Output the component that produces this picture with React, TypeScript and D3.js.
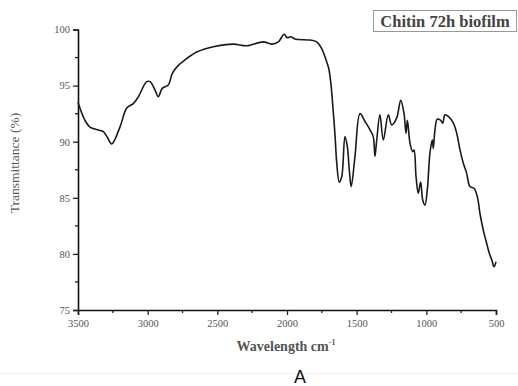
import React, { useEffect, useRef } from 'react';
import * as d3 from 'd3';

// FTIR spectrum
const wavenumbers = [
  3500, 3450, 3414, 3354, 3318, 3290, 3258, 3199, 3150, 3103, 3067, 3007, 2983, 2947, 2924, 2895,
  2852, 2823, 2780, 2732, 2648, 2529, 2385, 2289, 2170, 2110, 2062, 2021, 1998, 1974, 1943, 1835,
  1787, 1751, 1715, 1700, 1685, 1670, 1655, 1643, 1625, 1607, 1584, 1567, 1553, 1539, 1512, 1476,
  1440, 1404, 1381, 1369, 1356, 1333, 1309, 1273, 1249, 1213, 1184, 1160, 1146, 1136, 1117, 1098,
  1088, 1074, 1058, 1041, 1026, 1010, 993, 974, 957, 950, 938, 922, 897, 883, 866, 842, 806, 782,
  758, 735, 711, 687, 658, 634, 615, 591, 567, 548, 530, 514, 500,
];
const transmittance = [
  93.5, 91.9, 91.3, 91.05, 90.9, 90.4, 89.8, 91.3, 93.0, 93.4, 94.0, 95.35, 95.35, 94.6, 94.0, 94.75,
  95.05, 96.1, 96.8, 97.3, 98.0, 98.47, 98.7, 98.55, 98.9, 98.7, 98.9, 99.57, 99.27, 99.36, 99.15, 99.06,
  98.9, 98.3, 97.1, 96.5, 95.2, 93.0, 90.5, 88.1, 86.4, 86.9, 90.45, 89.55, 87.5, 86.0, 88.7, 92.5,
  91.8, 91.05, 90.45, 88.7, 90.15, 92.4, 90.15, 92.4, 91.5, 92.1, 93.7, 92.5, 90.75, 91.9, 89.85, 89.1,
  89.25, 86.9, 85.4, 86.4, 84.8, 84.35, 85.7, 89.0, 90.15, 89.4, 91.05, 92.0, 91.9, 91.65, 92.4, 92.25, 91.65, 90.75,
  89.25, 88.1, 87.2, 86.0, 85.85, 85.1, 83.6, 82.1, 80.95, 80.05, 79.45, 78.85, 79.3,
];
const xTicks = [3500, 3000, 2500, 2000, 1500, 1000, 500];
const yTicks = [75, 80, 85, 90, 95, 100];
const legendLabel = 'Chitin 72h biofilm';

const serif = '"Liberation Serif", "DejaVu Serif", serif';

const App = () => {
  const svgRef = useRef(null);

  useEffect(() => {
    const svg = d3.select(svgRef.current);
    svg.selectAll('*').remove();

    const width = 518;
    const height = 386;
    const margin = { top: 29.5, right: 22, bottom: 76, left: 78 };

    svg.append('rect').attr('width', width).attr('height', height).attr('fill', 'white');

    const x = d3.scaleLinear().domain([3500, 500]).range([margin.left, width - margin.right]);
    const y = d3.scaleLinear().domain([75, 100]).range([height - margin.bottom, margin.top]);

    // minor ticks
    const xMinor = d3.range(3250, 500, -500);
    const yMinor = d3.range(77.5, 100, 5);

    const xAxis = svg.append('g')
      .attr('transform', `translate(0,${height - margin.bottom})`)
      .call(d3.axisBottom(x).tickValues(xTicks).tickSize(5).tickPadding(5).tickFormat(d3.format('d')));
    const yAxis = svg.append('g')
      .attr('transform', `translate(${margin.left},0)`)
      .call(d3.axisLeft(y).tickValues(yTicks).tickSize(5).tickPadding(3));

    [xAxis, yAxis].forEach(g => {
      g.select('.domain').attr('stroke', '#111').attr('stroke-width', 1.6);
      g.selectAll('.tick line').attr('stroke', '#222').attr('stroke-width', 1.3);
      g.selectAll('.tick text')
        .attr('fill', '#555')
        .style('font-family', serif)
        .style('font-size', '10.5px');
    });

    svg.append('g').selectAll('line').data(xMinor).enter().append('line')
      .attr('x1', d => x(d)).attr('x2', d => x(d))
      .attr('y1', height - margin.bottom).attr('y2', height - margin.bottom + 3)
      .attr('stroke', '#222').attr('stroke-width', 1.3);
    svg.append('g').selectAll('line').data(yMinor).enter().append('line')
      .attr('x1', margin.left - 3).attr('x2', margin.left)
      .attr('y1', d => y(d)).attr('y2', d => y(d))
      .attr('stroke', '#222').attr('stroke-width', 1.3);

    // spectrum
    const points = wavenumbers.map((w, i) => [w, transmittance[i]]);
    const line = d3.line()
      .x(d => x(d[0]))
      .y(d => y(d[1]))
      .curve(d3.curveCatmullRom.alpha(0.5));
    svg.append('path')
      .datum(points)
      .attr('d', line)
      .attr('fill', 'none')
      .attr('stroke', '#1a1a1a')
      .attr('stroke-width', 1.6)
      .attr('stroke-linejoin', 'round');

    // axis labels
    svg.append('text')
      .attr('transform', `translate(16,${163}) rotate(-90)`)
      .attr('text-anchor', 'middle')
      .attr('dominant-baseline', 'middle')
      .attr('fill', '#555')
      .style('font-family', serif)
      .style('font-size', '13.5px')
      .text('Transmittance (%)');

    const xl = svg.append('text')
      .attr('x', 286)
      .attr('y', 351)
      .attr('text-anchor', 'middle')
      .attr('fill', '#555')
      .style('font-family', serif)
      .style('font-size', '14px')
      .style('font-weight', 'bold');
    xl.append('tspan').text('Wavelength cm');
    xl.append('tspan').attr('dy', -6).style('font-size', '8px').text('-1');

    // legend box
    svg.append('rect')
      .attr('x', 373.5).attr('y', 10.5).attr('width', 143).attr('height', 21)
      .attr('fill', 'white').attr('stroke', '#999').attr('stroke-width', 1);
    svg.append('text')
      .attr('x', 445).attr('y', 26.5)
      .attr('text-anchor', 'middle')
      .attr('fill', '#444')
      .style('font-family', serif)
      .style('font-size', '16.5px')
      .style('font-weight', 'bold')
      .text(legendLabel);

    // panel letter and separator
    svg.append('line')
      .attr('x1', 0).attr('x2', width).attr('y1', 373.5).attr('y2', 373.5)
      .attr('stroke', '#eee').attr('stroke-width', 1);
    svg.append('text')
      .attr('x', 300).attr('y', 383)
      .attr('text-anchor', 'middle')
      .attr('fill', '#111')
      .style('font-family', '"Liberation Sans", Arial, sans-serif')
      .style('font-size', '18px')
      .text('A');
  }, []);

  return (
    <svg ref={svgRef} width={518} height={386}
      style={{ position: 'absolute', left: 0, top: 0, display: 'block' }} />
  );
};

export default App;
